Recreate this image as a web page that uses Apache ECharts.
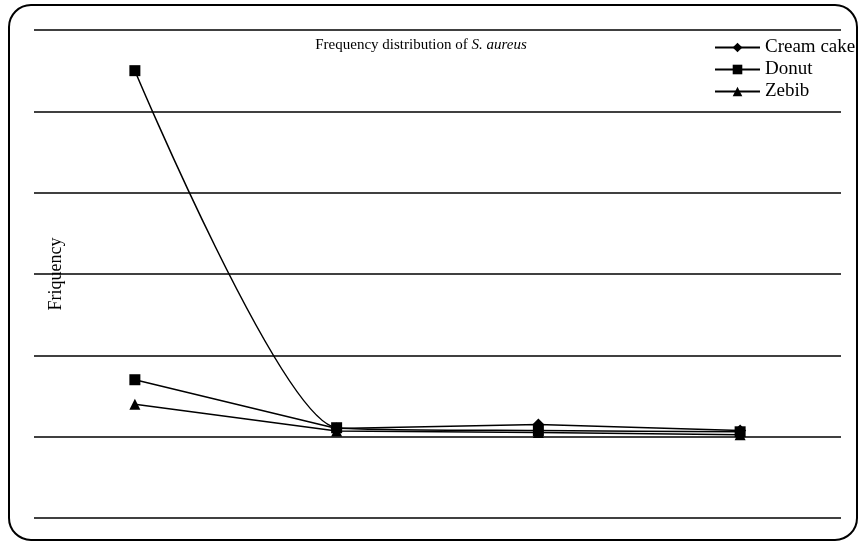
<!DOCTYPE html>
<html><head><meta charset="utf-8">
<script src="https://cdn.jsdelivr.net/npm/echarts@6/dist/echarts.min.js"></script>
<style>html,body{margin:0;padding:0;background:#fff}#c{width:859px;height:546px}</style>
</head><body><div id="c"></div>
<script>
var categories = ['1', '2', '3', '4'];
var creamCake = [14, 2.0, 3.0, 1.5];
var donut = [90, 2.2, 1.5, 1.2];
var zebib = [8, 1.4, 1.0, 0.5];
var yTicks = {min: -20, max: 100, interval: 20};

var font = 'Liberation Serif';
var chart = echarts.init(document.getElementById('c'));
chart.setOption({
  animation: false,
  backgroundColor: '#fff',
  textStyle: {fontFamily: font, color: '#000'},
  title: {
    text: '{n|Frequency distribution of }{i|S. aureus}',
    left: 416, top: 33, textAlign: 'center',
    textStyle: {fontWeight: 'normal', rich: {
      n: {fontFamily: font, fontSize: 15, fontWeight: 'normal', color: '#000'},
      i: {fontFamily: font, fontSize: 15, fontWeight: 'normal', fontStyle: 'italic', color: '#000'}
    }}
  },
  legend: {
    orient: 'vertical', left: 709, top: 33,
    itemWidth: 45, itemHeight: 12, itemGap: 3,
    textStyle: {fontFamily: font, fontSize: 19, color: '#000'},
    data: ['Cream cake', 'Donut', 'Zebib']
  },
  grid: {left: 34, right: 18, top: 30, bottom: 28},
  xAxis: {
    type: 'category', data: categories, boundaryGap: true,
    axisLine: {show: false}, axisTick: {show: false}, axisLabel: {show: false}
  },
  yAxis: {
    type: 'value', min: yTicks.min, max: yTicks.max, interval: yTicks.interval,
    name: 'Friquency', nameLocation: 'middle', nameGap: -30, nameRotate: 90,
    nameTextStyle: {fontFamily: font, fontSize: 18, color: '#000', padding: [0, 0, -1, 0]},
    axisLine: {show: false}, axisTick: {show: false}, axisLabel: {show: false},
    splitLine: {lineStyle: {color: '#000', width: 1.5}}
  },
  graphic: [{
    type: 'rect', z: 100, silent: true,
    shape: {x: 9, y: 5, width: 848, height: 535, r: 22},
    style: {fill: 'none', stroke: '#000', lineWidth: 2}
  }],
  series: [
    {name: 'Cream cake', type: 'line', symbol: 'diamond', symbolSize: 12,
     data: creamCake.map(function(v, i){ return i === 0 ? {value: v, symbol: 'rect', symbolSize: 11} : v; }),
     lineStyle: {color: '#000', width: 1.5}, itemStyle: {color: '#000'}},
    {name: 'Donut', type: 'line', symbol: 'rect', symbolSize: 11, smooth: 0.2, data: donut,
     lineStyle: {color: '#000', width: 1.5}, itemStyle: {color: '#000'}},
    {name: 'Zebib', type: 'line', symbol: 'triangle', symbolSize: 11, data: zebib,
     lineStyle: {color: '#000', width: 1.5}, itemStyle: {color: '#000'}}
  ]
});
</script></body></html>
